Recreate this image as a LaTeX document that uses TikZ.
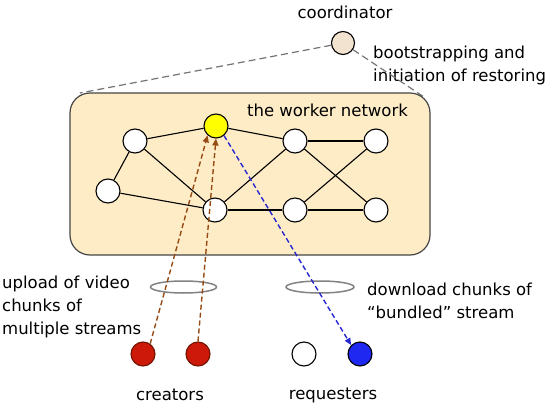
\documentclass[tikz,border=0pt]{standalone}
\usepackage{fontspec}
\setmainfont{DejaVu Sans}
\usetikzlibrary{arrows.meta}
\definecolor{boxfill}{RGB}{253,236,198}
\definecolor{boxline}{RGB}{70,70,70}
\definecolor{coordfill}{RGB}{242,227,208}
\definecolor{yel}{RGB}{255,255,0}
\definecolor{redfill}{RGB}{205,25,10}
\definecolor{redline}{RGB}{110,20,0}
\definecolor{bluefill}{RGB}{30,40,240}
\definecolor{brownarrow}{RGB}{150,75,20}
\definecolor{bluearrow}{RGB}{40,40,210}
\definecolor{dashgray}{RGB}{115,115,115}
\definecolor{ellgray}{RGB}{130,130,130}
\tikzset{
  peer/.style={circle, draw=black, line width=1.1pt, minimum size=24pt, inner sep=0pt, fill=white},
  lbl/.style={inner sep=0pt, font=\fontsize{16.5}{23}\selectfont, align=left},
  edge/.style={draw=black, line width=1.1pt},
  guide/.style={draw=dashgray, line width=1.2pt, dash pattern=on 7pt off 4pt},
  upl/.style={draw=brownarrow, line width=1.4pt, dash pattern=on 5pt off 3pt, -{Triangle[length=7pt,width=6pt]}},
  dnl/.style={draw=bluearrow, line width=1.4pt, dash pattern=on 5pt off 3pt, -{Triangle[length=7pt,width=6pt]}},
  ring/.style={draw=ellgray, line width=1.5pt}
}
\begin{document}
\begin{tikzpicture}[x=1pt,y=-1pt]
\useasboundingbox (0,0) rectangle (550,407);
\fill[white] (0,0) rectangle (550,407);

% coordinator
\node[peer, fill=coordfill, minimum size=23pt] (coord) at (343,43) {};
\node[lbl] (coordlbl) at (345,12) {coordinator};
\node[lbl, anchor=west] (bootlbl) at (373,65) {bootstrapping and\\initiation of restoring};
\coordinate (boxTL) at (80,93);
\coordinate (boxTR) at (424,97);
\draw[guide] (coord) -- (boxTL);
\draw[guide] (coord) -- (boxTR);

% worker network box
\node[draw=boxline, fill=boxfill, line width=1.2pt, rounded corners=20pt,
      minimum width=360pt, minimum height=162pt, inner sep=0pt] (net) at (250,174) {};
\node[lbl] (netlbl) at (327.5,110) {the worker network};

% worker nodes
\node[peer] (n1) at (135,141) {};
\node[peer, fill=yel] (yw) at (216,126) {};
\node[peer] (n2) at (108,191) {};
\node[peer] (n3) at (215,210) {};
\node[peer] (n4) at (295,141) {};
\node[peer] (n5) at (376,141) {};
\node[peer] (n6) at (295,210) {};
\node[peer] (n7) at (376,210) {};

\draw[edge] (n1) -- (yw);
\draw[edge] (n1) -- (n2);
\draw[edge] (n1) -- (n3);
\draw[edge] (n2) -- (n3);
\draw[edge] (yw) -- (n4);
\draw[edge] (n3) -- (n4);
\draw[edge] (n3) -- (n6);
\draw[edge] (n4) -- (n5);
\draw[edge] (n4) -- (n7);
\draw[edge] (n6) -- (n5);
\draw[edge] (n6) -- (n7);

% ellipses
\draw[ring] (183.5,287) ellipse [x radius=33pt, y radius=6pt];
\draw[ring] (320,287) ellipse [x radius=34pt, y radius=6pt];

% creators and requesters
\node[peer, fill=redfill, draw=redline] (c1) at (143,354) {};
\node[peer, fill=redfill, draw=redline] (c2) at (198,354) {};
\node[peer] (r1) at (304,354) {};
\node[peer, fill=bluefill] (r2) at (360,354) {};

% arrows
\draw[upl] (c1.55) -- (yw.228);
\draw[upl] (c2.north) -- (yw.south);
\draw[dnl] (yw.-50) -- (r2.135);

% labels
\node[lbl, anchor=west] (uplbl) at (2,306.5) {upload of video\\chunks of\\multiple streams};
\node[lbl, anchor=west] (dnlbl) at (367,301) {download chunks of\\“bundled” stream};
\node[lbl] (crlbl) at (170,395) {creators};
\node[lbl] (rqlbl) at (333,395) {requesters};
\end{tikzpicture}
\end{document}
